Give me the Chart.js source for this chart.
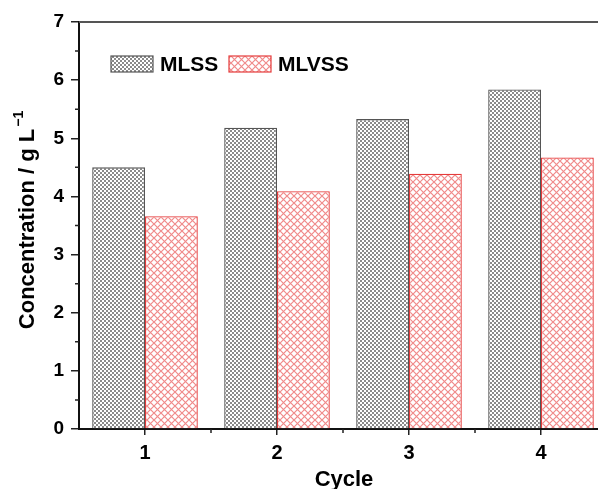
<!DOCTYPE html>
<html>
<head>
<meta charset="utf-8">
<script src="https://cdn.jsdelivr.net/npm/chart.js@4"></script>
<style>
  html, body { margin: 0; padding: 0; overflow: hidden; background: #fff; }
  #wrap { width: 598px; height: 489px; overflow: hidden; }
</style>
</head>
<body>
<div id="wrap"><canvas id="myChart" width="640" height="489"></canvas></div>
<script>
const cycles = ["1", "2", "3", "4"];
const mlss = [4.50, 5.18, 5.33, 5.84];
const mlvss = [3.66, 4.09, 4.39, 4.67];
const seriesNames = ["MLSS", "MLVSS"];
const yTicks = [0, 1, 2, 3, 4, 5, 6, 7];

const FONT = "'Liberation Sans', Arial, sans-serif";

// fill patterns
function grayPattern() {
    const c = document.createElement("canvas");
    c.width = 4; c.height = 4;
    const g = c.getContext("2d");
    g.fillStyle = "#ffffff";
    g.fillRect(0, 0, 4, 4);
    g.fillStyle = "#8a8a8a";
    g.fillRect(0, 0, 2, 2);
    g.fillRect(2, 2, 2, 2);
    return g.createPattern(c, "repeat");
}

function redPattern() {
    const c = document.createElement("canvas");
    c.width = 7; c.height = 7;
    const g = c.getContext("2d");
    g.fillStyle = "#ffffff";
    g.fillRect(0, 0, 7, 7);
    g.strokeStyle = "#f08a8a";
    g.lineWidth = 1.2;
    g.beginPath();
    g.moveTo(-1, -1); g.lineTo(8, 8);
    g.moveTo(8, -1); g.lineTo(-1, 8);
    g.stroke();
    return g.createPattern(c, "repeat");
}

const grayFill = grayPattern();
const redFill = redPattern();

// minor ticks, top frame line, legend and axis titles
const decorPlugin = {
    id: "decor",
    afterDraw(chart) {
        const ctx = chart.ctx;
        const area = chart.chartArea;
        const x = chart.scales.x;
        const y = chart.scales.y;
        ctx.save();

        // top frame line
        ctx.strokeStyle = "#555";
        ctx.lineWidth = 2;
        ctx.beginPath();
        ctx.moveTo(area.left, area.top);
        ctx.lineTo(area.right + 2, area.top);
        ctx.stroke();

        // minor ticks
        ctx.strokeStyle = "#222";
        ctx.lineWidth = 1.5;
        ctx.beginPath();
        for (let i = 0; i < yTicks.length - 1; i++) {
            const py = y.getPixelForValue(yTicks[i] + 0.5);
            ctx.moveTo(area.left, py);
            ctx.lineTo(area.left - 4, py);
        }
        for (let i = 0; i < cycles.length - 1; i++) {
            const px = (x.getPixelForValue(i) + x.getPixelForValue(i + 1)) / 2;
            ctx.moveTo(px, area.bottom);
            ctx.lineTo(px, area.bottom + 4);
        }
        ctx.stroke();

        // legend
        const items = [
            { fill: grayFill, border: "#555", x: 111 },
            { fill: redFill, border: "#e53b3b", x: 229 }
        ];
        ctx.font = "bold 21px " + FONT;
        ctx.textBaseline = "middle";
        ctx.textAlign = "left";
        items.forEach((it, i) => {
            ctx.fillStyle = it.fill;
            ctx.fillRect(it.x, 56, 42, 16);
            ctx.strokeStyle = it.border;
            ctx.lineWidth = 1.2;
            ctx.strokeRect(it.x, 56, 42, 16);
            ctx.fillStyle = "#000";
            ctx.fillText(seriesNames[i], it.x + 49, 65);
        });

        // x title
        ctx.font = "bold 22px " + FONT;
        ctx.textAlign = "center";
        ctx.fillText("Cycle", 344, 480);

        // y title with superscript
        ctx.translate(28, 220);
        ctx.rotate(-Math.PI / 2);
        const main = "Concentration / g L";
        const sup = "\u22121";
        ctx.font = "bold 22px " + FONT;
        const w1 = ctx.measureText(main).width;
        ctx.font = "bold 14px " + FONT;
        const w2 = ctx.measureText(sup).width;
        const start = -(w1 + w2 + 2) / 2;
        ctx.textAlign = "left";
        ctx.font = "bold 22px " + FONT;
        ctx.fillText(main, start, 0);
        ctx.font = "bold 14px " + FONT;
        ctx.fillText(sup, start + w1 + 2, -9);

        ctx.restore();
    }
};

const ctx = document.getElementById("myChart").getContext("2d");

new Chart(ctx, {
    type: "bar",
    data: {
        labels: cycles,
        datasets: [
            {
                label: seriesNames[0],
                data: mlss,
                backgroundColor: grayFill,
                borderColor: "#555",
                borderWidth: 1.3
            },
            {
                label: seriesNames[1],
                data: mlvss,
                backgroundColor: redFill,
                borderColor: "#e53b3b",
                borderWidth: 1.3
            }
        ]
    },
    options: {
        responsive: false,
        animation: false,
        layout: { padding: { left: 0, top: 22, right: 33, bottom: 0 } },
        plugins: {
            legend: { display: false },
            tooltip: { enabled: false }
        },
        datasets: {
            bar: { categoryPercentage: 0.8, barPercentage: 1.0 }
        },
        scales: {
            x: {
                offset: true,
                grid: {
                    offset: false,
                    drawOnChartArea: false,
                    tickLength: 6,
                    color: "#222",
                    lineWidth: 1.5
                },
                border: { color: "#111", width: 2 },
                ticks: {
                    padding: 6,
                    color: "#000",
                    font: { family: FONT, size: 20, weight: "bold" }
                },
                afterFit(scale) { scale.height = 60; }
            },
            y: {
                min: 0,
                max: 7,
                afterBuildTicks(scale) {
                    scale.ticks = yTicks.map(v => ({ value: v }));
                },
                grid: {
                    drawOnChartArea: false,
                    tickLength: 8,
                    color: "#222",
                    lineWidth: 1.5
                },
                border: { color: "#111", width: 2 },
                ticks: {
                    padding: 7,
                    color: "#000",
                    font: { family: FONT, size: 19, weight: "bold" }
                },
                afterFit(scale) { scale.width = 79; }
            }
        }
    },
    plugins: [decorPlugin]
});
</script>
</body>
</html>
